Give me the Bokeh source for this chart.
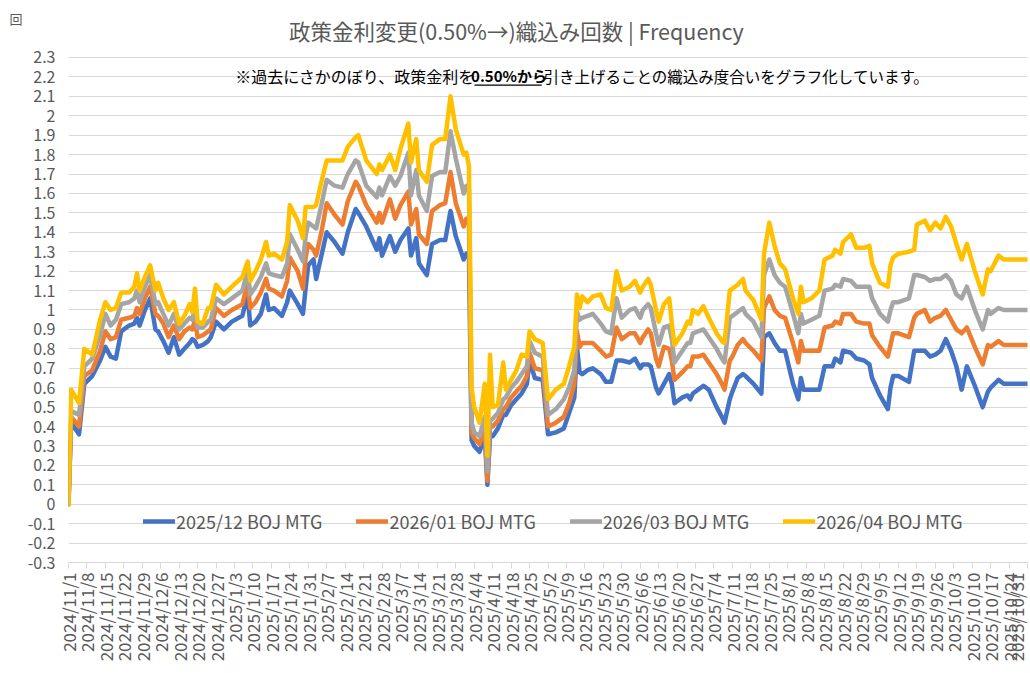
import numpy as np
import pandas as pd
from bokeh.plotting import figure
from bokeh.models import FixedTicker, Label, BoxAnnotation, ColumnDataSource, LinearAxis
from bokeh.embed import file_html
from bokeh.resources import INLINE

# ---------------- data ----------------
dates = [
    "2024-11-01", "2024-11-02", "2024-11-05", "2024-11-07", "2024-11-10", "2024-11-13", "2024-11-15",
    "2024-11-17", "2024-11-19", "2024-11-21", "2024-11-24", "2024-11-26", "2024-11-27", "2024-11-28",
    "2024-11-30", "2024-12-02", "2024-12-04", "2024-12-05", "2024-12-07", "2024-12-09", "2024-12-11",
    "2024-12-13", "2024-12-15", "2024-12-17", "2024-12-18", "2024-12-19", "2024-12-20", "2024-12-22",
    "2024-12-24", "2024-12-25", "2024-12-27", "2024-12-30", "2025-01-02",
    "2025-01-06", "2025-01-08", "2025-01-09", "2025-01-11", "2025-01-13", "2025-01-15", "2025-01-16",
    "2025-01-18", "2025-01-21", "2025-01-23", "2025-01-24", "2025-01-27", "2025-01-29", "2025-01-30",
    "2025-01-31", "2025-02-02", "2025-02-03", "2025-02-05", "2025-02-07", "2025-02-10", "2025-02-13",
    "2025-02-15", "2025-02-18", "2025-02-19", "2025-02-22", "2025-02-26", "2025-02-27", "2025-02-28",
    "2025-03-03", "2025-03-05", "2025-03-07", "2025-03-10", "2025-03-11", "2025-03-13", "2025-03-14",
    "2025-03-17", "2025-03-19", "2025-03-22", "2025-03-24", "2025-03-26", "2025-03-28", "2025-03-31",
    "2025-04-01", "2025-04-02",
    "2025-04-03", "2025-04-04", "2025-04-06", "2025-04-08", "2025-04-09", "2025-04-10", "2025-04-11",
    "2025-04-13", "2025-04-15", "2025-04-16", "2025-04-18", "2025-04-20", "2025-04-22", "2025-04-24",
    "2025-04-25", "2025-04-27", "2025-04-30", "2025-05-02", "2025-05-05", "2025-05-08", "2025-05-10",
    "2025-05-12", "2025-05-13", "2025-05-14", "2025-05-15", "2025-05-17", "2025-05-19", "2025-05-22",
    "2025-05-24", "2025-05-26", "2025-05-28",
    "2025-05-30", "2025-06-02", "2025-06-04", "2025-06-06", "2025-06-07", "2025-06-09", "2025-06-10",
    "2025-06-12", "2025-06-13", "2025-06-15", "2025-06-17", "2025-06-18", "2025-06-19", "2025-06-22",
    "2025-06-24", "2025-06-25", "2025-06-26", "2025-06-28", "2025-06-30", "2025-07-02", "2025-07-05",
    "2025-07-07", "2025-07-08", "2025-07-10", "2025-07-11", "2025-07-13", "2025-07-15", "2025-07-16",
    "2025-07-19", "2025-07-22", "2025-07-23", "2025-07-25", "2025-07-27", "2025-07-29", "2025-07-31",
    "2025-08-03", "2025-08-05", "2025-08-06", "2025-08-07", "2025-08-10", "2025-08-13",
    "2025-08-15", "2025-08-18", "2025-08-19", "2025-08-21", "2025-08-22", "2025-08-25", "2025-08-27",
    "2025-08-30", "2025-09-01", "2025-09-02", "2025-09-05", "2025-09-08", "2025-09-09", "2025-09-10",
    "2025-09-12", "2025-09-16", "2025-09-18", "2025-09-19", "2025-09-22", "2025-09-24", "2025-09-26",
    "2025-09-28", "2025-09-30", "2025-10-02", "2025-10-04", "2025-10-06", "2025-10-08", "2025-10-11",
    "2025-10-14", "2025-10-16", "2025-10-17", "2025-10-20", "2025-10-22", "2025-10-31",
]

mtg_2025_12 = [
    0, 0.42, 0.36, 0.62, 0.66, 0.74, 0.81, 0.76, 0.75, 0.89,
    0.92, 0.93, 0.96, 0.92, 1.00, 1.06, 0.90, 0.89, 0.84, 0.78,
    0.86, 0.77, 0.80, 0.83, 0.85, 0.84, 0.81, 0.82, 0.84, 0.86,
    0.94, 0.90, 0.94,
    0.97, 1.08, 0.92, 0.94, 0.98, 1.08, 1.00, 1.01, 0.97, 1.04,
    1.10, 1.03, 0.98, 1.11, 1.23, 1.26, 1.16, 1.28, 1.40, 1.35,
    1.29, 1.40, 1.52, 1.50, 1.43, 1.31, 1.37, 1.28, 1.38, 1.30,
    1.36, 1.42, 1.28, 1.37, 1.24, 1.18, 1.34, 1.36, 1.36, 1.51,
    1.38, 1.26, 1.29, 1.28,
    0.33, 0.30, 0.27, 0.35, 0.10, 0.35, 0.35, 0.39, 0.46, 0.46,
    0.51, 0.54, 0.57, 0.62, 0.74, 0.65, 0.64, 0.36, 0.37, 0.39,
    0.47, 0.55, 0.81, 0.68, 0.67, 0.69, 0.70, 0.67, 0.63, 0.63,
    0.74,
    0.74, 0.73, 0.75, 0.70, 0.72, 0.72, 0.71, 0.60, 0.57, 0.62,
    0.67, 0.62, 0.52, 0.55, 0.56, 0.54, 0.57, 0.59, 0.61, 0.59,
    0.50, 0.45, 0.42, 0.54, 0.58, 0.65, 0.67, 0.66, 0.62, 0.57,
    0.86, 0.88, 0.83, 0.79, 0.79, 0.62, 0.54, 0.65, 0.59, 0.59,
    0.59,
    0.71, 0.71, 0.75, 0.73, 0.79, 0.78, 0.75, 0.74, 0.72, 0.65,
    0.56, 0.49, 0.60, 0.66, 0.66, 0.63, 0.79, 0.79, 0.79, 0.76,
    0.77, 0.79, 0.85, 0.79, 0.71, 0.59, 0.71, 0.61, 0.50, 0.58,
    0.60, 0.64, 0.62, 0.62,
]

mtg_2026_01 = [
    0, 0.45, 0.40, 0.66, 0.69, 0.79, 0.89, 0.85, 0.86, 0.95,
    0.96, 0.97, 1.01, 0.98, 1.06, 1.12, 0.98, 0.97, 0.93, 0.86,
    0.92, 0.85, 0.89, 0.91, 0.90, 0.95, 0.86, 0.87, 0.89, 0.90,
    1.01, 0.97, 1.00,
    1.03, 1.14, 1.01, 1.04, 1.09, 1.16, 1.11, 1.10, 1.07, 1.15,
    1.27, 1.20, 1.11, 1.27, 1.34, 1.31, 1.28, 1.40, 1.55, 1.49,
    1.44, 1.56, 1.66, 1.64, 1.54, 1.45, 1.50, 1.45, 1.57, 1.47,
    1.54, 1.61, 1.44, 1.52, 1.39, 1.34, 1.51, 1.54, 1.55, 1.71,
    1.55, 1.43, 1.47, 1.46,
    0.37, 0.34, 0.31, 0.40, 0.12, 0.40, 0.40, 0.43, 0.49, 0.50,
    0.55, 0.58, 0.61, 0.66, 0.78, 0.70, 0.69, 0.40, 0.42, 0.45,
    0.52, 0.62, 0.89, 0.81, 0.83, 0.83, 0.83, 0.79, 0.76, 0.77,
    0.91,
    0.85, 0.88, 0.88, 0.83, 0.86, 0.90, 0.88, 0.75, 0.71, 0.81,
    0.80, 0.74, 0.64, 0.68, 0.71, 0.71, 0.76, 0.76, 0.77, 0.73,
    0.67, 0.62, 0.59, 0.74, 0.76, 0.82, 0.85, 0.83, 0.79, 0.74,
    1.01, 1.07, 1.00, 0.97, 0.96, 0.83, 0.73, 0.84, 0.79, 0.79,
    0.79,
    0.91, 0.92, 0.94, 0.93, 0.98, 0.98, 0.94, 0.93, 0.93, 0.87,
    0.81, 0.76, 0.82, 0.88, 0.88, 0.86, 0.96, 0.98, 1.00, 0.94,
    0.96, 0.97, 1.00, 0.95, 0.90, 0.88, 0.91, 0.81, 0.72, 0.82,
    0.81, 0.84, 0.82, 0.82,
]

mtg_2026_03 = [
    0, 0.48, 0.46, 0.71, 0.75, 0.87, 0.98, 0.92, 0.95, 1.03,
    1.04, 1.06, 1.10, 1.04, 1.12, 1.18, 1.03, 1.04, 0.98, 0.92,
    0.98, 0.90, 0.93, 0.96, 0.95, 1.01, 0.91, 0.91, 0.94, 0.95,
    1.06, 1.03, 1.06,
    1.10, 1.20, 1.08, 1.12, 1.17, 1.24, 1.19, 1.18, 1.17, 1.24,
    1.39, 1.31, 1.25, 1.38, 1.45, 1.43, 1.42, 1.54, 1.67, 1.64,
    1.63, 1.70, 1.77, 1.76, 1.64, 1.58, 1.63, 1.59, 1.69, 1.64,
    1.69, 1.81, 1.59, 1.72, 1.59, 1.51, 1.69, 1.71, 1.71, 1.92,
    1.78, 1.60, 1.64, 1.62,
    0.42, 0.37, 0.35, 0.45, 0.17, 0.43, 0.44, 0.47, 0.54, 0.55,
    0.60, 0.63, 0.67, 0.71, 0.84, 0.78, 0.76, 0.46, 0.49, 0.54,
    0.60, 0.69, 0.99, 0.95, 0.96, 0.97, 0.98, 0.93, 0.89, 0.88,
    1.06,
    0.96, 1.00, 1.01, 0.96, 1.00, 1.03, 1.01, 0.88, 0.82, 0.91,
    0.92, 0.85, 0.73, 0.79, 0.83, 0.83, 0.88, 0.89, 0.90, 0.86,
    0.80, 0.75, 0.73, 0.96, 0.97, 0.99, 1.01, 0.98, 0.94, 0.86,
    1.18, 1.26, 1.18, 1.14, 1.12, 0.98, 0.88, 0.98, 0.93, 0.95,
    0.97,
    1.10, 1.11, 1.13, 1.12, 1.16, 1.15, 1.12, 1.12, 1.12, 1.06,
    0.98, 0.94, 1.00, 1.04, 1.04, 1.06, 1.18, 1.18, 1.17, 1.15,
    1.16, 1.16, 1.18, 1.15, 1.08, 1.06, 1.12, 1.00, 0.90, 1.00,
    0.98, 1.01, 1.00, 1.00,
]

mtg_2026_04 = [
    0, 0.59, 0.52, 0.80, 0.77, 0.95, 1.04, 1.00, 1.01, 1.09,
    1.09, 1.12, 1.19, 1.10, 1.17, 1.23, 1.10, 1.14, 1.06, 1.00,
    1.04, 0.93, 0.97, 1.03, 0.99, 1.11, 0.94, 0.93, 1.01, 1.01,
    1.13, 1.08, 1.12,
    1.17, 1.25, 1.15, 1.20, 1.26, 1.35, 1.28, 1.29, 1.26, 1.35,
    1.54, 1.46, 1.37, 1.53, 1.53, 1.53, 1.54, 1.66, 1.77, 1.77,
    1.77, 1.84, 1.89, 1.90, 1.77, 1.70, 1.75, 1.72, 1.80, 1.72,
    1.83, 1.96, 1.76, 1.88, 1.72, 1.66, 1.85, 1.88, 1.88, 2.10,
    1.93, 1.80, 1.81, 1.74,
    0.60, 0.50, 0.42, 0.62, 0.25, 0.77, 0.50, 0.51, 0.73, 0.59,
    0.64, 0.69, 0.77, 0.76, 0.89, 0.85, 0.83, 0.54, 0.59, 0.62,
    0.71, 0.81, 1.08, 1.01, 1.07, 1.04, 1.07, 1.08, 1.01, 1.00,
    1.20,
    1.10, 1.12, 1.15, 1.09, 1.12, 1.16, 1.13, 1.00, 0.94, 1.03,
    1.06, 0.93, 0.82, 0.88, 0.94, 0.93, 1.00, 0.98, 1.02, 0.96,
    0.88, 0.84, 0.83, 1.10, 1.11, 1.13, 1.16, 1.10, 1.05, 0.95,
    1.29, 1.45, 1.33, 1.24, 1.21, 1.06, 0.98, 1.12, 1.04, 1.06,
    1.10,
    1.26, 1.28, 1.31, 1.29, 1.35, 1.39, 1.32, 1.32, 1.33, 1.24,
    1.14, 1.12, 1.23, 1.27, 1.29, 1.30, 1.31, 1.44, 1.46, 1.41,
    1.45, 1.42, 1.48, 1.43, 1.34, 1.26, 1.34, 1.20, 1.08, 1.21,
    1.20, 1.28, 1.26, 1.26,
]

series_names = ["2025/12 BOJ MTG", "2026/01 BOJ MTG", "2026/03 BOJ MTG", "2026/04 BOJ MTG"]
series_colors = ["#4472C4", "#ED7D31", "#A5A5A5", "#FFC000"]
axis_start = "2024-11-01"
axis_end = "2025-10-31"
y_ticks = [round(-0.3 + 0.1 * i, 1) for i in range(27)]

title_text = "政策金利変更(0.50%→)織込み回数 | Frequency"
unit_text = "回"
note_1 = "※過去にさかのぼり、政策金利を"
note_2 = "0.50%から"
note_3 = "引き上げることの織込み度合いをグラフ化しています。"

# ---------------- build ----------------
start = pd.Timestamp(axis_start)
x_days = (pd.to_datetime(dates) - start).days.to_numpy()
end_day = (pd.Timestamp(axis_end) - start).days

tick_dates = pd.date_range(axis_start, axis_end, freq="7D")
tick_pos = [int((d - start).days) for d in tick_dates]
tick_lab = {t: f"{d.year}/{d.month}/{d.day}" for t, d in zip(tick_pos, tick_dates)}

src = ColumnDataSource(dict(x=x_days, s1=mtg_2025_12, s2=mtg_2026_01, s3=mtg_2026_03, s4=mtg_2026_04))

FONT = "Noto Sans CJK JP"
GREY = "#595959"

# the plot frame reaches above the top gridline so that the title can sit inside it
p = figure(width=1028, height=670, x_range=(0, end_day), y_range=(-0.3, 2.5677),
           output_backend="svg", toolbar_location=None, title=None,
           min_border_left=68, min_border_right=1, min_border_top=5, min_border_bottom=108)
p.outline_line_color = None
p.background_fill_color = "white"
p.border_fill_color = "white"

for col, name, color in zip(["s1", "s2", "s3", "s4"], series_names, series_colors):
    p.line("x", col, source=src, line_color=color, line_width=4.5,
           line_join="round", line_cap="round", legend_label=name)

# axes
p.xaxis.ticker = FixedTicker(ticks=tick_pos)
p.xaxis.major_label_overrides = tick_lab
p.xaxis.major_label_orientation = np.pi / 2
p.xaxis.major_label_text_font = FONT
p.xaxis.major_label_text_font_size = "17px"
p.xaxis.major_label_text_color = GREY
p.xaxis.axis_line_color = "#d9d9d9"
p.xaxis.major_tick_line_color = "#d9d9d9"
p.xaxis.major_tick_out = 6
p.xaxis.major_tick_in = 0
p.xaxis.minor_tick_line_color = None
p.xaxis.major_label_standoff = 4

p.yaxis.ticker = FixedTicker(ticks=y_ticks)
p.yaxis.major_label_overrides = {t: f"{t:g}" for t in y_ticks}
p.yaxis.major_label_text_font = FONT
p.yaxis.major_label_text_font_size = "16px"
p.yaxis.major_label_text_color = GREY
p.yaxis.axis_line_color = None
p.yaxis.major_tick_line_color = None
p.yaxis.major_tick_out = 0
p.yaxis.major_tick_in = 0
p.yaxis.minor_tick_line_color = None
p.yaxis.major_label_standoff = 13

# unit mark "回" at the top-left, carried by an outer left axis with a single tick
unit_axis = LinearAxis(ticker=FixedTicker(ticks=[2.5]), major_label_overrides={2.5: unit_text},
                       axis_line_color=None, major_tick_line_color=None, minor_tick_line_color=None,
                       major_tick_out=0, major_tick_in=0, major_label_standoff=2,
                       major_label_text_font=FONT, major_label_text_font_size="13px",
                       major_label_text_color=GREY)
p.add_layout(unit_axis, "left")

p.xgrid.grid_line_color = None
p.ygrid.ticker = FixedTicker(ticks=y_ticks)
p.ygrid.grid_line_color = "#d9d9d9"
p.ygrid.grid_line_width = 1

# legend
lg = p.legend[0]
lg.orientation = "horizontal"
lg.location = (75, 28)
lg.padding = 0
lg.margin = 0
lg.spacing = 34
lg.glyph_width = 32
lg.glyph_height = 20
lg.label_height = 20
lg.label_standoff = 1
lg.label_text_font = FONT
lg.label_text_font_size = "18px"
lg.label_text_color = GREY
lg.background_fill_alpha = 0
lg.border_line_color = None

# chart title
p.add_layout(Label(x=170.0, y=2.439, text=title_text, text_align="center", text_baseline="middle",
                   text_font=FONT, text_font_size="21.5px", text_color=GREY))

# note inside the plot area
p.add_layout(Label(x=154.1, y=2.207, text=note_1, text_align="right", text_baseline="middle",
                   text_font=FONT, text_font_size="16px", text_color="#000000"))
p.add_layout(Label(x=167.2, y=2.207, text=note_2, text_align="center", text_baseline="middle",
                   text_font=FONT, text_font_size="15px", text_font_style="bold", text_color="#000000"))
p.add_layout(Label(x=180.3, y=2.207, text=note_3, text_align="left", text_baseline="middle",
                   text_font=FONT, text_font_size="15.5px", text_color="#000000"))
p.add_layout(BoxAnnotation(left=154.1, right=179.6, bottom=2.154, top=2.161,
                           fill_color="#000000", fill_alpha=1, line_color=None))

open("out.html", "w").write(file_html(p, INLINE))
